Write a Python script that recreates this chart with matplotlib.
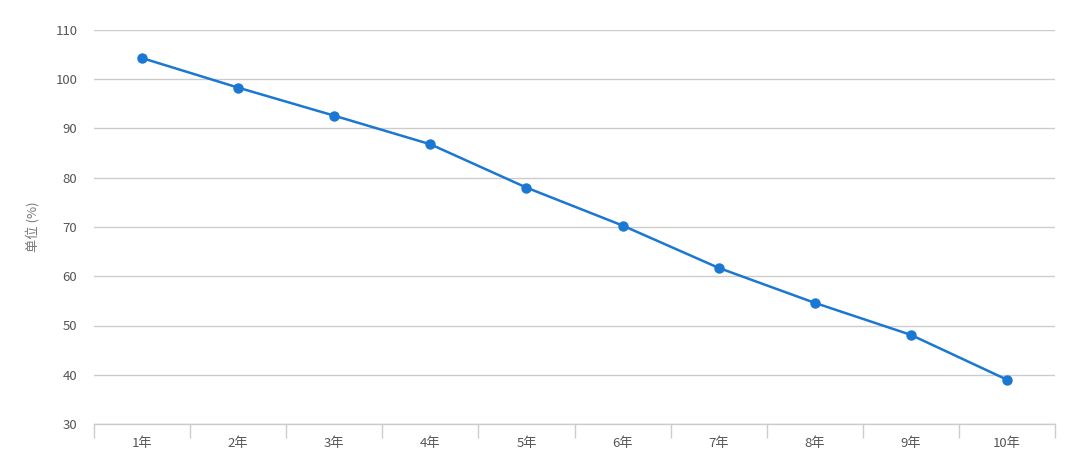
import matplotlib
matplotlib.use("Agg")
import matplotlib.pyplot as plt

plt.rcParams['font.family'] = ['Noto Sans CJK SC', 'DejaVu Sans']

categories = ['1年', '2年', '3年', '4年', '5年', '6年', '7年', '8年', '9年', '10年']
values = [104.3, 98.3, 92.6, 86.8, 78.0, 70.3, 61.7, 54.6, 48.1, 39.0]
yticks = [30, 40, 50, 60, 70, 80, 90, 100, 110]

fig = plt.figure(figsize=(10.8, 4.66), dpi=100)
ax = fig.add_axes([94/1080, 42/466, (1055-94)/1080, (424-30)/466])

x = list(range(len(categories)))
ax.plot(x, values, color='#1a77d2', linewidth=1.8, marker='o', markersize=6.5, zorder=3)

ax.set_xlim(-0.5, len(categories) - 0.5)
ax.set_ylim(30, 110)
ax.set_yticks(yticks)
ax.set_xticks(x)
ax.set_xticklabels(categories)
ax.set_xticks([i - 0.5 for i in range(len(categories) + 1)], minor=True)

ax.grid(axis='y', color='#cccccc', linewidth=1)
for s in ['top', 'right', 'left']:
    ax.spines[s].set_visible(False)
ax.spines['bottom'].set_color('#cccccc')
ax.spines['bottom'].set_linewidth(1)

ax.tick_params(axis='y', length=0, pad=12, labelsize=9.5, labelcolor='#555555')
ax.tick_params(axis='x', which='major', length=0, pad=9, labelsize=9.5, labelcolor='#555555')
ax.tick_params(axis='x', which='minor', length=10, color='#cccccc', width=1)

ax.set_ylabel('单位 (%)', fontsize=9.5, color='#777777')
ax.yaxis.set_label_coords((40 - 94) / 961, 0.5)

fig.savefig('out.png', dpi=100)
